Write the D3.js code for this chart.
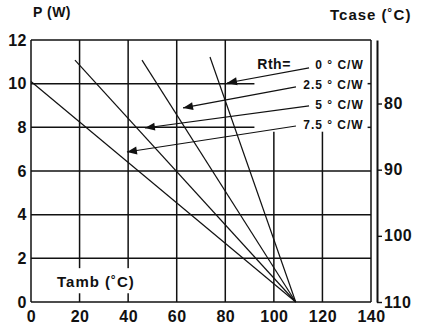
<!DOCTYPE html>
<html>
<head>
    <script src="https://cdn.jsdelivr.net/npm/d3@7/dist/d3.min.js"></script>
    <style type="text/css">
        body { margin: 0; background: white; }
        svg { display: block; }
        text {
            font-family: "Liberation Sans", Arial, sans-serif;
            font-weight: bold;
            fill: #111; }
        .tick text { font-size: 16px; letter-spacing: 0.5px; }
        .grid { stroke: #111; stroke-width: 1.5; fill: none; }
        .curve { stroke: #111; stroke-width: 1.2; fill: none; }
        .arrow { stroke: #111; stroke-width: 1.2; fill: none; }
        .head { fill: #111; }
        .rlabel { font-size: 12px; letter-spacing: 1px; text-anchor: end; }
        .title { font-size: 14px; letter-spacing: 0.5px; }
        .title.wide { font-size: 15px; letter-spacing: 1px; }
    </style>
</head>
<body>
<div id="chart"></div>
<script type="text/javascript">
    // curves: Rth value, start point (Tamb, P), all end at Tamb = tjEnd, P = 0
    var rthValues = [0, 2.5, 5, 7.5];
    var startTamb = [73.7, 45.7, 18.1, 0];
    var startP = [11.22, 11.08, 11.08, 10.1];
    var tjEnd = 109;

    // arrow pointers for the Rth labels (data coords: tail -> head)
    var arrowTailT = [114.5, 109.1, 114.5, 109.1];
    var arrowTailP = [10.72, 9.85, 8.98, 8.06];
    var arrowHeadT = [80.7, 62.6, 46.9, 39.5];
    var arrowHeadP = [10.03, 8.89, 7.97, 6.87];
    var labelP = [10.88, 9.96, 9.05, 8.13];

    var xTicks = [0, 20, 40, 60, 80, 100, 120, 140];
    var yTicks = [0, 2, 4, 6, 8, 10, 12];
    var tcaseTicks = [80, 90, 100, 110];
    var rthJC = 3.3;

    var margin = { top: 40, left: 31, bottom: 29, right: 54 };
    var width = 425 - margin.left - margin.right;
    var height = 331 - margin.top - margin.bottom;

    var root = d3.select("#chart").append("svg")
        .attr("width", 425)
        .attr("height", 331);
    var svg = root.append("g")
        .attr("transform", "translate(" + margin.left + "," + margin.top + ")");

    var x = d3.scaleLinear().domain([0, 140]).range([0, width]);
    var y = d3.scaleLinear().domain([0, 12]).range([height, 0]);
    var y2 = d3.scaleLinear().domain([110, 110 - 12 * rthJC]).range([height, 0]);

    // grid: verticals at 100 and 120 stop short, horizontals at 8 and 10 stop short
    svg.selectAll(".vgrid")
        .data(xTicks)
        .enter().append("line")
        .attr("class", "grid")
        .attr("x1", function (d) { return x(d); })
        .attr("x2", function (d) { return x(d); })
        .attr("y1", function (d) { return (d == 100 || d == 120) ? y(7.8) : y(12); })
        .attr("y2", y(0));

    svg.selectAll(".hgrid")
        .data(yTicks)
        .enter().append("line")
        .attr("class", "grid")
        .attr("x1", x(0))
        .attr("x2", function (d) { return (d == 8 || d == 10) ? x(92) : x(140); })
        .attr("y1", function (d) { return y(d); })
        .attr("y2", function (d) { return y(d); });

    // little stubs left at the right border
    svg.selectAll(".stub")
        .data([8, 10])
        .enter().append("line")
        .attr("class", "grid")
        .attr("x1", x(138.6))
        .attr("x2", x(140))
        .attr("y1", function (d) { return y(d); })
        .attr("y2", function (d) { return y(d); });

    // Tamb label sits in a blank patch of the grid
    svg.append("rect")
        .attr("x", x(7))
        .attr("y", y(1.55))
        .attr("width", x(50.2) - x(7))
        .attr("height", y(0.4) - y(1.55))
        .attr("fill", "white");

    svg.append("text")
        .attr("class", "title wide")
        .attr("x", x(10.7))
        .attr("y", y(0.95))
        .attr("dy", "0.35em")
        .text("Tamb (\u02DAC)");

    // derating curves
    svg.selectAll(".curve")
        .data(rthValues)
        .enter().append("line")
        .attr("class", "curve")
        .attr("x1", function (d, i) { return x(startTamb[i]); })
        .attr("y1", function (d, i) { return y(startP[i]); })
        .attr("x2", x(tjEnd))
        .attr("y2", y(0));

    // arrows
    svg.selectAll(".arrow")
        .data(rthValues)
        .enter().append("line")
        .attr("class", "arrow")
        .attr("x1", function (d, i) { return x(arrowTailT[i]); })
        .attr("y1", function (d, i) { return y(arrowTailP[i]); })
        .attr("x2", function (d, i) { return x(arrowHeadT[i]); })
        .attr("y2", function (d, i) { return y(arrowHeadP[i]); });

    svg.selectAll(".head")
        .data(rthValues)
        .enter().append("path")
        .attr("class", "head")
        .attr("d", "M0,0 L10,-4 L10,4 Z")
        .attr("transform", function (d, i) {
            var hx = x(arrowHeadT[i]), hy = y(arrowHeadP[i]);
            var a = Math.atan2(y(arrowTailP[i]) - hy, x(arrowTailT[i]) - hx) * 180 / Math.PI;
            return "translate(" + hx + "," + hy + ") rotate(" + a + ")";
        });

    svg.selectAll(".rlabel")
        .data(rthValues)
        .enter().append("text")
        .attr("class", "rlabel")
        .attr("x", x(137))
        .attr("y", function (d, i) { return y(labelP[i]); })
        .attr("dy", "0.35em")
        .text(function (d) { return d + " \u00B0 C/W"; });

    svg.append("text")
        .attr("class", "title")
        .attr("x", x(93.2))
        .attr("y", y(labelP[0]))
        .attr("dy", "0.35em")
        .text("Rth=");

    // axes
    var xAxis = d3.axisBottom(x).tickValues(xTicks).tickSize(0).tickPadding(9);
    svg.append("g")
        .attr("transform", "translate(0," + height + ")")
        .call(xAxis)
        .call(function (g) { g.select(".domain").remove(); });

    var yAxis = d3.axisLeft(y).tickValues(yTicks).tickSize(0).tickPadding(4);
    svg.append("g")
        .call(yAxis)
        .call(function (g) { g.select(".domain").remove(); });

    var rAxis = d3.axisRight(y2).tickValues(tcaseTicks).tickSize(5).tickPadding(2).tickSizeOuter(0);
    svg.append("g")
        .attr("transform", "translate(" + (width + 6) + ",0)")
        .call(rAxis)
        .call(function (g) {
            g.select(".domain").attr("stroke", "#111").attr("stroke-width", 2);
            g.selectAll(".tick line").attr("stroke", "#111").attr("stroke-width", 1.4);
        });

    root.append("text")
        .attr("class", "title")
        .attr("x", 33)
        .attr("y", 17)
        .text("P (W)");

    root.append("text")
        .attr("class", "title wide")
        .attr("x", 330)
        .attr("y", 20)
        .text("Tcase (\u02DAC)");
</script>
</body>
</html>
